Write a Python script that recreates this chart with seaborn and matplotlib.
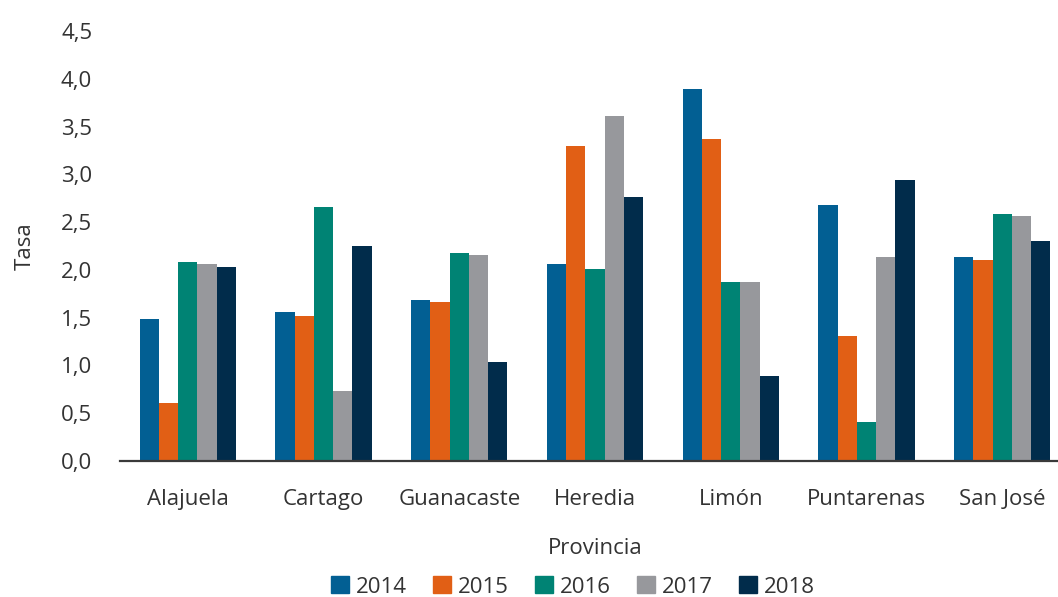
import numpy as np
import pandas as pd
import matplotlib.pyplot as plt
import seaborn as sns

# data
provincias = ['Alajuela', 'Cartago', 'Guanacaste', 'Heredia', 'Limón', 'Puntarenas', 'San José']
years = ['2014', '2015', '2016', '2017', '2018']
tasa_2014 = [1.49, 1.56, 1.69, 2.06, 3.89, 2.68, 2.13]
tasa_2015 = [0.61, 1.52, 1.66, 3.30, 3.37, 1.31, 2.10]
tasa_2016 = [2.08, 2.66, 2.18, 2.01, 1.87, 0.41, 2.59]
tasa_2017 = [2.06, 0.73, 2.16, 3.61, 1.87, 2.13, 2.56]
tasa_2018 = [2.03, 2.25, 1.04, 2.76, 0.89, 2.94, 2.30]

PALETTE = ['#025f93', '#e15f15', '#008374', '#97989c', '#012c4b']
TEXT = '#333333'
FS = 16

series = [tasa_2014, tasa_2015, tasa_2016, tasa_2017, tasa_2018]
df = pd.DataFrame({
    'Provincia': provincias * len(years),
    'Año': np.repeat(years, len(provincias)),
    'Tasa': np.concatenate(series),
})

sns.set_style('white')
plt.rcParams['font.family'] = ['Open Sans', 'DejaVu Sans']

fig = plt.figure(figsize=(10.58, 5.97), dpi=100)
ax = fig.add_axes([120 / 1058, 1 - 461 / 597, 950 / 1058, 430 / 597])

sns.barplot(data=df, x='Provincia', y='Tasa', hue='Año', palette=PALETTE,
            width=0.71, saturation=1, legend=False, ax=ax, errorbar=None,
            edgecolor='none', linewidth=0)

ax.set_xlim(-0.5, 6.5)
ax.set_ylim(0, 4.5)
ax.set_yticks(np.arange(0, 4.51, 0.5))
ax.set_yticklabels([f'{v:.1f}'.replace('.', ',') for v in np.arange(0, 4.51, 0.5)])
ax.tick_params(axis='y', length=0, pad=20, labelsize=FS, labelcolor=TEXT)
ax.tick_params(axis='x', length=0, pad=20, labelsize=FS, labelcolor=TEXT)
ax.set_xlabel('Provincia', fontsize=FS, color=TEXT, labelpad=20)
ax.set_ylabel('Tasa', fontsize=FS, color=TEXT, labelpad=18)

for s in ['top', 'right', 'left']:
    ax.spines[s].set_visible(False)
ax.spines['bottom'].set_color('#3a3a3a')
ax.spines['bottom'].set_linewidth(1.6)

handles = [plt.Rectangle((0, 0), 1, 1, color=c) for c in PALETTE]
fig.legend(handles, years, loc='center', bbox_to_anchor=(573 / 1058, 1 - 587 / 597),
           ncol=5, frameon=False, fontsize=FS, handlelength=0.8, handleheight=0.8,
           handletextpad=0.3, columnspacing=1.2, labelcolor=TEXT)

fig.savefig('out.png', dpi=100)
